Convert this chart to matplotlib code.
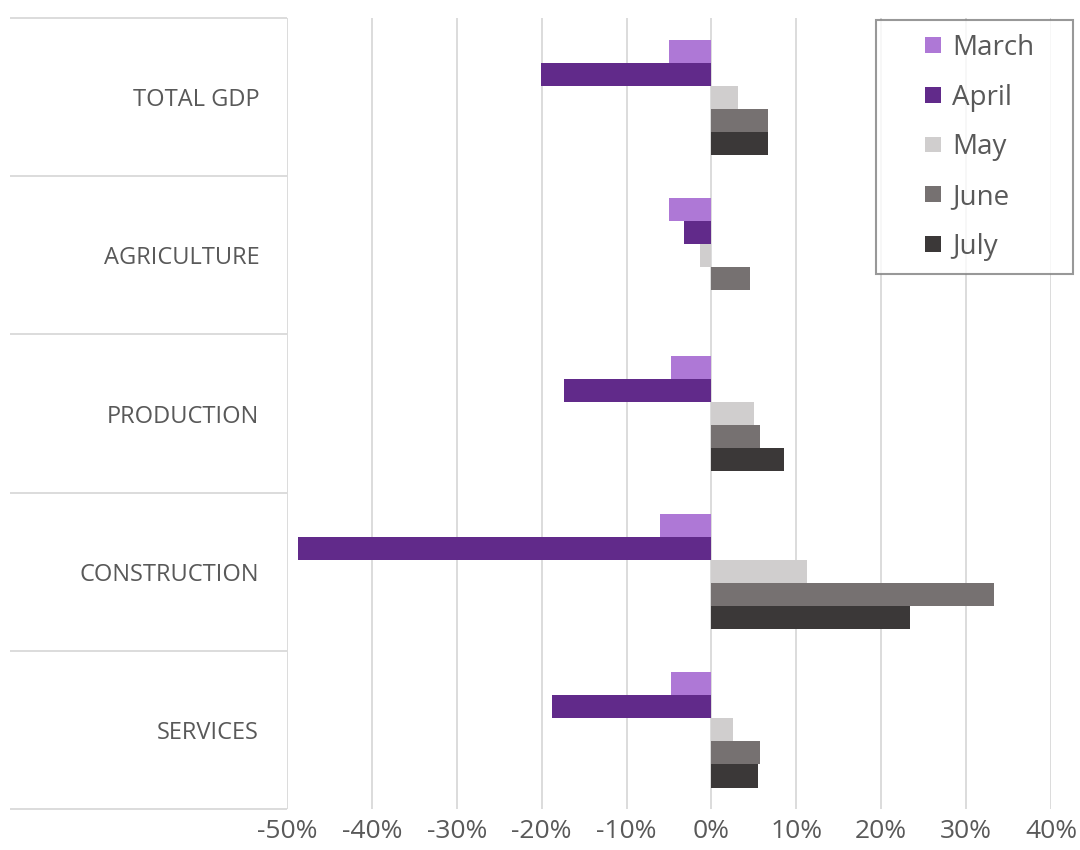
import matplotlib.pyplot as plt
import numpy as np
from matplotlib.patches import Patch, Rectangle
from matplotlib.legend_handler import HandlerPatch

plt.rcParams['font.family'] = ['Open Sans', 'DejaVu Sans']

# Data (growth vs. previous year, %)
categories = ["TOTAL GDP", "AGRICULTURE", "PRODUCTION", "CONSTRUCTION", "SERVICES"]
months = ["March", "April", "May", "June", "July"]
march = [-5.0, -5.0, -4.7, -6.0, -4.7]
april = [-20.1, -3.2, -17.4, -48.7, -18.8]
may = [3.1, -1.4, 5.0, 11.3, 2.5]
june = [6.7, 4.5, 5.7, 33.3, 5.7]
july = [6.7, np.nan, 8.5, 23.4, 5.5]
series = [march, april, may, june, july]
colors = ["#ae78d6", "#612a8a", "#d0cece", "#767171", "#3b3838"]

fig = plt.figure(figsize=(10.8, 8.5), dpi=100)
ax = fig.add_axes([0.2657, 0.0482, 0.7074, 0.9306])

y = np.arange(len(categories))
h = 0.1456
for i, (vals, c) in enumerate(zip(series, colors)):
    ax.barh(y + (i - 2) * h, vals, height=h, color=c, zorder=3)

ax.set_xlim(-50, 40)
ax.set_ylim(len(categories) - 0.5, -0.5)
ax.set_xticks(np.arange(-50, 41, 10))
ax.set_xticklabels([f"{v}%" for v in range(-50, 41, 10)], fontsize=19, color="#595959")
ax.set_yticks(y)
ax.set_yticklabels(categories, fontsize=17, color="#595959")
ax.tick_params(axis="y", length=0, pad=20)
ax.tick_params(axis="x", length=0, pad=7)
ax.grid(axis="x", color="#d9d9d9", linewidth=1.3, zorder=0)
for s in ax.spines.values():
    s.set_visible(False)

# category separators extending to the left
bounds = np.arange(len(categories) + 1) - 0.5
ax.hlines(bounds, -0.363, 0, transform=ax.get_yaxis_transform(),
          color="#d9d9d9", linewidth=1.3, clip_on=False)


# small square marker placed at the right end of the handle box
def square_right(legend, orig_handle, xdescent, ydescent, width, height, fontsize):
    s = 11.5
    return Rectangle((width - s - xdescent, -ydescent + (height - s) / 2), s, s)


handles = [Patch(facecolor=c, label=m) for m, c in zip(months, colors)]
leg = ax.legend(handles=handles, loc="upper left", mode="expand",
                bbox_to_anchor=(0.771, 0.6775, 0.2578, 0.32),
                fontsize=20, frameon=True, fancybox=False, handlelength=1.85,
                handletextpad=0.4, labelspacing=0.78, borderpad=0.5,
                labelcolor="#595959", borderaxespad=0,
                handler_map={Patch: HandlerPatch(patch_func=square_right)})
leg.get_frame().set_edgecolor("#7f7f7f")
leg.get_frame().set_linewidth(1.5)

fig.savefig("out.png", dpi=100)
